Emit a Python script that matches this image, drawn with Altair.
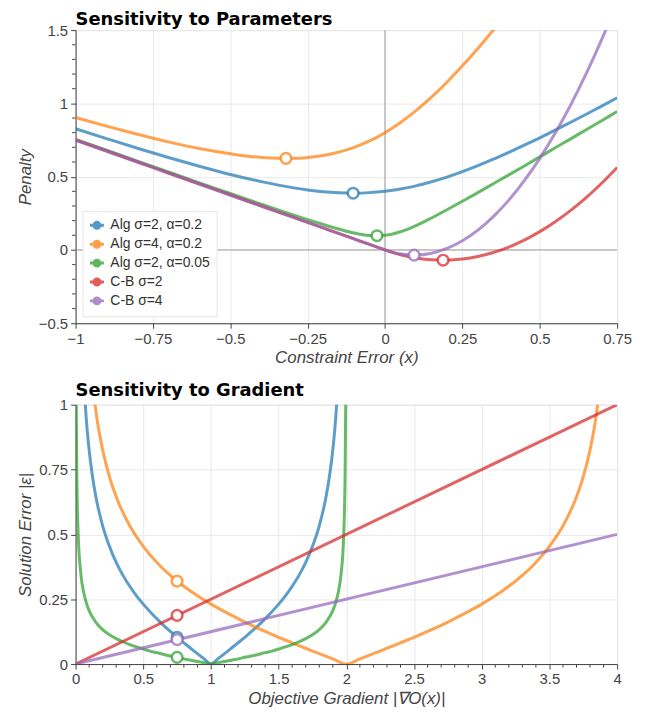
import altair as alt
import pandas as pd

# ---------------- data ----------------
SERIES = ["Alg σ=2, α=0.2", "Alg σ=4, α=0.2", "Alg σ=2, α=0.05", "C-B σ=2", "C-B σ=4"]
COLORS = ["#1f77b4", "#ff7f0e", "#2ca02c", "#d62728", "#9467bd"]

# Top panel: penalty vs constraint error
top_x = [-1, -0.9, -0.8, -0.7, -0.6, -0.5, -0.4, -0.3, -0.25, -0.2, -0.15, -0.1, -0.05, -0.025, 0,
         0.025, 0.05, 0.1, 0.15, 0.2, 0.25, 0.3, 0.35, 0.4, 0.45, 0.5, 0.55, 0.6, 0.65, 0.7, 0.75]
top_alg_s2_a02 = [0.827, 0.760, 0.694, 0.631, 0.571, 0.515, 0.466, 0.425, 0.409, 0.397, 0.390, 0.387, 0.391, 0.395, 0.400,
                  0.407, 0.416, 0.437, 0.465, 0.497, 0.534, 0.575, 0.619, 0.666, 0.715, 0.765, 0.818, 0.871, 0.926, 0.981, 1.038]
top_alg_s4_a02 = [0.904, 0.845, 0.789, 0.737, 0.692, 0.656, 0.631, 0.625, 0.631, 0.644, 0.667, 0.700, 0.744, 0.770, 0.800,
                  0.833, 0.869, 0.950, 1.042, 1.144, 1.256, 1.375, 1.501, 1.631, None, None, None, None, None, None, None]
top_alg_s2_a005 = [0.755, 0.681, 0.606, 0.532, 0.458, 0.385, 0.312, 0.241, 0.207, 0.174, 0.143, 0.116, 0.099, 0.097, 0.100,
                   0.109, 0.124, 0.166, 0.218, 0.274, 0.332, 0.391, 0.452, 0.512, 0.573, 0.635, 0.697, 0.758, 0.820, 0.882, 0.944]
top_cb_s2 = [0.75, 0.675, 0.6, 0.525, 0.45, 0.375, 0.3, 0.225, 0.1875, 0.15, 0.1125, 0.075, 0.0375, 0.0188, 0,
             -0.0175, -0.0325, -0.055, -0.0675, -0.07, -0.0625, -0.045, -0.0175, 0.02, 0.0675, 0.125, 0.1925, 0.27, 0.3575, 0.455, 0.5625]
top_cb_s4 = [0.75, 0.675, 0.6, 0.525, 0.45, 0.375, 0.3, 0.225, 0.1875, 0.15, 0.1125, 0.075, 0.0375, 0.0188, 0,
             -0.0163, -0.0275, -0.035, -0.0225, 0.01, 0.0625, 0.135, 0.2275, 0.34, 0.4725, 0.625, 0.7975, 0.99, 1.2025, 1.435, 1.6875]
top_marker_x = [-0.103, -0.320, -0.026, 0.1875, 0.094]
top_marker_y = [0.387, 0.625, 0.097, -0.070, -0.035]

# Bottom panel: solution error vs objective gradient
bot_alg_s2_a02_x = [0.06, 0.08, 0.1, 0.125, 0.15, 0.2, 0.25, 0.3, 0.35, 0.4, 0.45, 0.5, 0.55, 0.6, 0.65, 0.7, 0.75, 0.8, 0.85, 0.9, 0.95, 1.0,
                    1.05, 1.1, 1.15, 1.2, 1.25, 1.3, 1.35, 1.4, 1.45, 1.5, 1.55, 1.6, 1.65, 1.7, 1.75, 1.8, 1.85, 1.875, 1.9, 1.92, 1.94]
bot_alg_s2_a02_y = [1.102, 0.939, 0.826, 0.723, 0.645, 0.533, 0.454, 0.392, 0.342, 0.300, 0.263, 0.231, 0.202, 0.175, 0.149, 0.126, 0.103, 0.082, 0.061, 0.040, 0.020, 0.0,
                    0.020, 0.040, 0.061, 0.082, 0.103, 0.126, 0.149, 0.175, 0.202, 0.231, 0.263, 0.300, 0.342, 0.392, 0.454, 0.533, 0.645, 0.723, 0.826, 0.939, 1.102]
bot_alg_s4_a02_x = [0.12, 0.16, 0.2, 0.25, 0.3, 0.4, 0.5, 0.6, 0.7, 0.8, 0.9, 1.0, 1.1, 1.2, 1.3, 1.4, 1.5, 1.6, 1.7, 1.8, 1.9, 2.0,
                    2.1, 2.2, 2.3, 2.4, 2.5, 2.6, 2.7, 2.8, 2.9, 3.0, 3.1, 3.2, 3.3, 3.4, 3.5, 3.6, 3.7, 3.75, 3.8, 3.84, 3.88]
bot_alg_s4_a02_y = [1.102, 0.939, 0.826, 0.723, 0.645, 0.533, 0.454, 0.392, 0.342, 0.300, 0.263, 0.231, 0.202, 0.175, 0.149, 0.126, 0.103, 0.082, 0.061, 0.040, 0.020, 0.0,
                    0.020, 0.040, 0.061, 0.082, 0.103, 0.126, 0.149, 0.175, 0.202, 0.231, 0.263, 0.300, 0.342, 0.392, 0.454, 0.533, 0.645, 0.723, 0.826, 0.939, 1.102]
bot_alg_s2_a005_x = [0.003, 0.005, 0.01, 0.02, 0.04, 0.06, 0.08, 0.1, 0.125, 0.15, 0.2, 0.25, 0.3, 0.35, 0.4, 0.45, 0.5, 0.55, 0.6, 0.65, 0.7, 0.75,
                     0.8, 0.85, 0.9, 0.95, 1.0, 1.05, 1.1, 1.15, 1.2, 1.25, 1.3, 1.35, 1.4, 1.45, 1.5, 1.55, 1.6, 1.65, 1.7, 1.75, 1.8, 1.85,
                     1.875, 1.9, 1.92, 1.94, 1.96, 1.98, 1.99, 1.995, 1.997]
bot_alg_s2_a005_y = [1.288, 0.996, 0.702, 0.492, 0.343, 0.276, 0.235, 0.206, 0.181, 0.161, 0.133, 0.113, 0.098, 0.086, 0.075, 0.066, 0.058, 0.050, 0.044, 0.037, 0.031, 0.026,
                     0.020, 0.015, 0.010, 0.005, 0.0, 0.005, 0.010, 0.015, 0.020, 0.026, 0.031, 0.037, 0.044, 0.050, 0.058, 0.066, 0.075, 0.086, 0.098, 0.113, 0.133, 0.161,
                     0.181, 0.206, 0.235, 0.276, 0.343, 0.492, 0.702, 0.996, 1.288]
bot_cb_s2_x = [0, 4]
bot_cb_s2_y = [0, 1.0]
bot_cb_s4_x = [0, 4]
bot_cb_s4_y = [0, 0.5]
bot_marker_x = [0.75, 0.75, 0.75, 0.75, 0.75]
bot_marker_y = [0.103, 0.320, 0.026, 0.1875, 0.094]

# axis ticks
top_x_ticks = [-1, -0.75, -0.5, -0.25, 0, 0.25, 0.5, 0.75]
top_y_ticks = [-0.5, 0, 0.5, 1, 1.5]
top_y_minor = [-0.4, -0.3, -0.2, -0.1, 0.1, 0.2, 0.3, 0.4, 0.6, 0.7, 0.8, 0.9, 1.1, 1.2, 1.3, 1.4]
bot_x_ticks = [0, 0.5, 1, 1.5, 2, 2.5, 3, 3.5, 4]
bot_y_ticks = [0, 0.25, 0.5, 0.75, 1]
bot_x_minor = [0.1, 0.2, 0.3, 0.4, 0.6, 0.7, 0.8, 0.9, 1.1, 1.2, 1.3, 1.4, 1.6, 1.7, 1.8, 1.9,
               2.1, 2.2, 2.3, 2.4, 2.6, 2.7, 2.8, 2.9, 3.1, 3.2, 3.3, 3.4, 3.6, 3.7, 3.8, 3.9]

# ---------------- build ----------------
W = 545
H1 = 295
H2 = 261
FONT = "Liberation Sans"
TITLE_FONT = "DejaVu Sans"
AX = "#444444"

def series_df(xs, ys, name):
    rows = [{"x": a, "y": b, "series": name} for a, b in zip(xs, ys) if b is not None]
    return pd.DataFrame(rows)

color_scale = alt.Scale(domain=SERIES, range=COLORS)
LEGEND_PATH = ("M-1,0L1,0"
               "M-0.43,0A0.43,0.43 0 1,0 0.43,0A0.43,0.43 0 1,0 -0.43,0"
               "M-0.14,0A0.14,0.14 0 1,0 0.14,0A0.14,0.14 0 1,0 -0.14,0")
legend = alt.Legend(title=None, orient="bottom-left", offset=7, fillColor="white",
                    strokeColor="#e6e6e6", padding=6, labelFontSize=14, labelFont=FONT,
                    labelColor="#333333", symbolType=LEGEND_PATH, symbolSize=196,
                    symbolStrokeWidth=3, symbolOpacity=0.75, rowPadding=0, labelOffset=5)

def axis(values, title):
    return alt.Axis(values=values, title=title, format=".2~f", labelFlush=False, labelOverlap=False,
                    grid=True, gridColor="#e9e9e9", domainColor=AX, tickColor=AX, tickSize=5,
                    labelColor=AX, labelFontSize=15, labelFont=FONT, labelPadding=3,
                    titleFont=FONT, titleFontSize=17, titleFontStyle="italic", titleFontWeight="normal",
                    titleColor=AX)

def panel(lines, markers, xdom, ydom, xticks, yticks, xtitle, ytitle, H, title, title_offset, zero_lines,
          y_minor=None, x_minor=None, show_legend=False):
    xs = alt.Scale(domain=xdom, nice=False, zero=False)
    ys = alt.Scale(domain=ydom, nice=False, zero=False)
    xa = axis(xticks, xtitle)
    ya = axis(yticks, ytitle)
    layers = []
    if zero_lines:
        zdf = pd.DataFrame({"v": [0]})
        layers.append(alt.Chart(zdf).mark_rule(color="#9a9a9a", strokeWidth=1).encode(
            x=alt.X("v:Q", scale=xs, axis=xa)))
        layers.append(alt.Chart(zdf).mark_rule(color="#9a9a9a", strokeWidth=1).encode(
            y=alt.Y("v:Q", scale=ys, axis=ya)))
    for name, (lx, ly) in zip(SERIES, lines):
        df = series_df(lx, ly, name)
        layers.append(alt.Chart(df).mark_line(strokeWidth=3, strokeOpacity=0.72, clip=True,
                                              interpolate="monotone").encode(
            x=alt.X("x:Q", scale=xs, axis=xa),
            y=alt.Y("y:Q", scale=ys, axis=ya),
            color=alt.Color("series:N", scale=color_scale,
                            legend=legend if show_legend else None)))
    mx, my = markers
    for i, name in enumerate(SERIES):
        df = pd.DataFrame({"x": [mx[i]], "y": [my[i]], "series": [name]})
        layers.append(alt.Chart(df).mark_point(shape="circle", filled=False, fill="white", fillOpacity=1,
                                               size=115, strokeWidth=2.5, strokeOpacity=0.72,
                                               clip=True).encode(
            x=alt.X("x:Q", scale=xs, axis=xa),
            y=alt.Y("y:Q", scale=ys, axis=ya),
            color=alt.Color("series:N", scale=color_scale, legend=None)))
    if y_minor is not None:
        layers.append(alt.Chart(pd.DataFrame({"v": y_minor})).mark_rule(color=AX, strokeWidth=1).encode(
            y=alt.Y("v:Q", scale=ys, axis=ya), x=alt.value(-3.5), x2=alt.value(0)))
    if x_minor is not None:
        layers.append(alt.Chart(pd.DataFrame({"v": x_minor})).mark_rule(color=AX, strokeWidth=1).encode(
            x=alt.X("v:Q", scale=xs, axis=xa), y=alt.value(H), y2=alt.value(H + 3.5)))
    return alt.layer(*layers).properties(
        width=W, height=H,
        title=alt.Title(title, anchor="start", frame="group", font=TITLE_FONT, fontSize=18,
                        fontWeight="bold", color="black", offset=title_offset))

top = panel(
    [(top_x, top_alg_s2_a02), (top_x, top_alg_s4_a02), (top_x, top_alg_s2_a005),
     (top_x, top_cb_s2), (top_x, top_cb_s4)],
    (top_marker_x, top_marker_y), [-1, 0.75], [-0.5, 1.5], top_x_ticks, top_y_ticks,
    "Constraint Error (x)", "Penalty", H1, "Sensitivity to Parameters", -6, True,
    y_minor=top_y_minor, show_legend=True)

bottom = panel(
    [(bot_alg_s2_a02_x, bot_alg_s2_a02_y), (bot_alg_s4_a02_x, bot_alg_s4_a02_y),
     (bot_alg_s2_a005_x, bot_alg_s2_a005_y), (bot_cb_s2_x, bot_cb_s2_y), (bot_cb_s4_x, bot_cb_s4_y)],
    (bot_marker_x, bot_marker_y), [0, 4], [0, 1], bot_x_ticks, bot_y_ticks,
    "Objective Gradient |∇O(x)|", "Solution Error |ε|", H2, "Sensitivity to Gradient", -2, False,
    x_minor=bot_x_minor)

chart = alt.vconcat(top, bottom, spacing=14).resolve_scale(color="independent").configure_view(
    strokeWidth=0).configure(background="white",
                             padding={"top": 0, "left": 7, "right": 5, "bottom": 0})

chart.save("out.html", embed_options={"renderer": "svg", "actions": False})
